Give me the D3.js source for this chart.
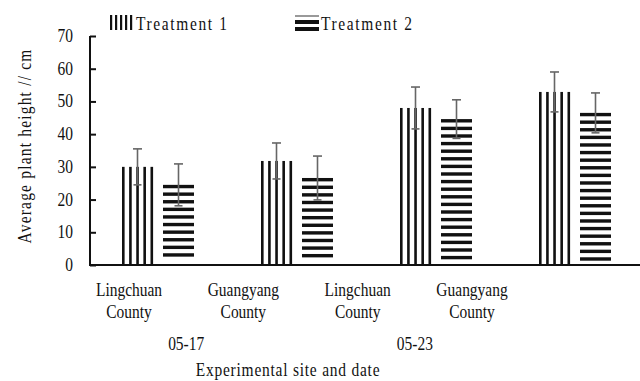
<!DOCTYPE html>
<html><head><meta charset="utf-8">
<script src="https://cdn.jsdelivr.net/npm/d3@7"></script>
<style>
body{margin:0;background:#fff;}
</style></head>
<body><svg id="c" width="640" height="381"></svg>
<script>
const sites = ["Lingchuan County","Guangyang County","Lingchuan County","Guangyang County"];
const dates = ["05-17","05-23"];
const seriesNames = ["Treatment 1","Treatment 2"];
const t1 = [30.0, 31.8, 48.0, 52.9];
const t2 = [24.5, 26.6, 44.6, 46.5];
const t1Err = [5.5, 5.5, 6.4, 6.1];
const t2Err = [6.4, 6.7, 5.9, 6.1];
const yTicks = [0,10,20,30,40,50,60,70];
const yTitle = "Average plant height // cm";
const xTitle = "Experimental site and date";

const FONT = '"Liberation Serif", "Times New Roman", serif';
const SX = 0.86;
const svg = d3.select("#c");
function label(parent, x, yy, s, anchor, rot, ls){
  return parent.append("text")
    .attr("transform", `translate(${x},${yy})${rot?` rotate(${rot})`:""} scale(${SX},1)`)
    .attr("text-anchor", anchor || "middle")
    .style("font-family",FONT).style("font-size","18px").style("letter-spacing",(ls||0)+"px")
    .attr("fill","#111").text(s);
}

const y = d3.scaleLinear().domain([0,70]).range([265,36]);
const gIdx = d3.range(sites.length);
const x0 = d3.scaleBand().domain(gIdx).range([88.5,644.5]);
const x1 = d3.scaleBand().domain([0,1]).range([-36,36]).paddingInner(0.244);
const labelX = d3.scalePoint().domain(gIdx).range([129,472]);

const values = [t1,t2], errs = [t1Err,t2Err];
const data = [];
gIdx.forEach(i => [0,1].forEach(s => data.push({g:i,s:s,v:values[s][i],e:errs[s][i]})));

// bars
const bars = svg.append("g");
data.forEach(d => {
  const bx = x0(d.g) + x0.bandwidth()/2 + x1(d.s);
  const bw = x1.bandwidth();
  const top = y(d.v), base = y(0);
  const g = bars.append("g");
  if (d.s === 0) {
    const n = 5, step = (bw-2.5)/(n-1);
    g.selectAll("rect").data(d3.range(n)).join("rect")
      .attr("x", k => bx + k*step).attr("y", top)
      .attr("width", 2.6).attr("height", base-top).attr("fill","#111");
  } else {
    const stripes = d3.range(top, base-6, 7.6);
    g.selectAll("rect").data(stripes).join("rect")
      .attr("x", bx).attr("y", yy => yy)
      .attr("width", bw).attr("height", 3.4).attr("fill","#111");
  }
  const cx = bx + bw/2;
  const eg = svg.append("g").attr("stroke","#666").attr("stroke-width",1.6);
  eg.append("line").attr("x1",cx).attr("x2",cx).attr("y1",y(d.v+d.e)).attr("y2",y(d.v-d.e));
  eg.append("line").attr("x1",cx-4.5).attr("x2",cx+4.5).attr("y1",y(d.v+d.e)).attr("y2",y(d.v+d.e));
  eg.append("line").attr("x1",cx-4).attr("x2",cx+4).attr("y1",y(d.v-d.e)).attr("y2",y(d.v-d.e));
});

// y axis
const yAxis = d3.axisLeft(y).tickValues(yTicks).tickSize(-6).tickFormat("");
const ya = svg.append("g").attr("transform","translate(90,0)").call(yAxis);
ya.select(".domain").attr("stroke","#111").attr("stroke-width",2).attr("d","M0,36V265");
ya.selectAll(".tick line").attr("stroke","#111").attr("stroke-width",2);
ya.selectAll(".tick text").remove();
const tl = svg.append("g");
yTicks.forEach(v => label(tl, 73, y(v)+6, String(v), "end"));

// x axis line
svg.append("line").attr("x1",89).attr("x2",640).attr("y1",y(0)).attr("y2",y(0))
  .attr("stroke","#111").attr("stroke-width",2);

// category labels
const lab = svg.append("g");
gIdx.forEach(i => {
  const parts = sites[i].split(" ");
  label(lab, labelX(i), 296, parts[0]);
  label(lab, labelX(i), 318, parts[1]);
});
dates.forEach((d,j) => {
  const cx = (labelX(j*2)+labelX(j*2+1))/2;
  label(lab, cx, 350, d);
});
label(lab, 288, 376, xTitle, "middle", 0, 0.9);

// y title
label(svg, 31, 146, yTitle, "middle", -90, 1.4);

// legend
const lg = svg.append("g");
const legX = [110, 295];
seriesNames.forEach((name,s) => {
  const g = lg.append("g");
  if (s===0) {
    g.selectAll("rect").data(d3.range(5)).join("rect")
      .attr("x",k=>legX[s]+k*5).attr("y",15).attr("width",2.2).attr("height",15).attr("fill","#111");
  } else {
    g.append("rect").attr("x",legX[s]).attr("y",15).attr("width",24).attr("height",2).attr("fill","#999");
    g.selectAll("rect.b").data(d3.range(2)).join("rect").attr("class","b")
      .attr("x",legX[s]).attr("y",k=>20+k*7).attr("width",24).attr("height",4).attr("fill","#111");
  }
  label(g, legX[s]+26, 30, name, "start", 0, 1.9);
});
</script></body></html>
